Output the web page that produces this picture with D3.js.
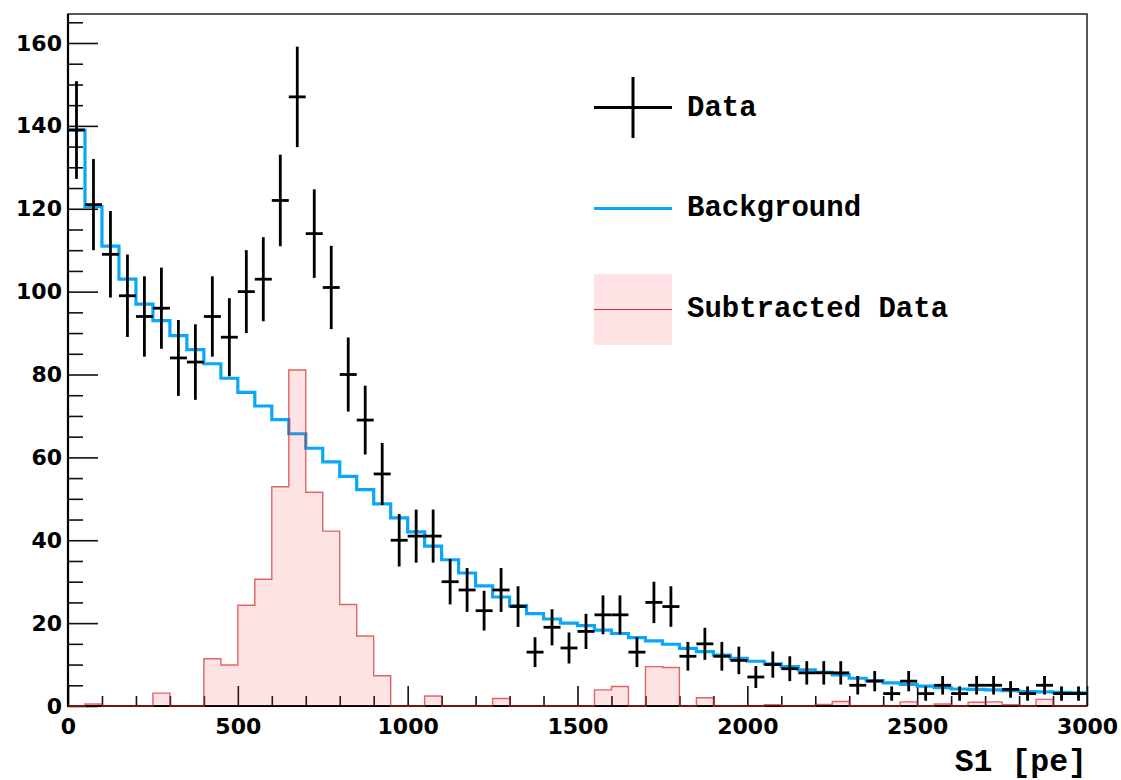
<!DOCTYPE html>
<html>
<head>
<meta charset="utf-8">
<script src="https://cdn.jsdelivr.net/npm/d3@7/dist/d3.min.js"></script>
<style>
  html, body { margin: 0; padding: 0; background: #ffffff; }
  svg { display: block; }
</style>
</head>
<body>
<svg id="chart" width="1121" height="780"></svg>
<script>
// ---- data (bins of 50 pe from 0 to 3000) ----
const binEdges = d3.range(0, 3001, 50);
const dataCounts = [139,121,109,99,94,96,84,83,94,89,
  100,103,122,147,114,101,80,69,56,40,
  41,41,30,28,23,28,24,13,19,14,
  18,22,22,13,25,24,12,15,12,11,
  7,10,9,8,8,8,5,6,3,6,
  3,5,3,5,5,4,3,5,3,3];
const background = [139,120.5,111,103,97,93,89.4,86,82.6,79.1,
  75.7,72.4,69.1,65.7,62.2,58.9,55.4,52.2,48.8,45.4,
  42,38.6,35.3,32.1,29,26.3,24.2,22.3,21,20,
  19.4,18.3,17.5,16.5,15.7,14.9,13.9,13.1,12.3,11.5,
  10.8,10.2,9.5,8.7,8.1,7.5,6.7,6.1,5.6,5.2,
  4.8,4.4,4.1,4.0,3.9,3.7,3.5,3.4,3.3,3.2];
const subtracted = [0,0.5,0,0,0,3.1,0,0,11.4,9.9,
  24.3,30.6,52.9,81.1,51.6,42.2,24.5,16.9,7.3,0,
  0,2.4,0,0,0,1.8,0,0,0,0,
  0,3.9,4.7,0,9.5,9.3,0,2.0,0,0,
  0,0.3,0,0,0.4,1.1,0,0,0,1.0,
  0,0.5,0,0.9,1.0,0.3,0,1.6,0,0];
const yMajorTicks = [0,20,40,60,80,100,120,140,160];
const xMajorTicks = [0,500,1000,1500,2000,2500,3000];
const legendLabels = ["Data", "Background", "Subtracted Data"];
const xTitle = "S1 [pe]";

// ---- layout ----
const svg = d3.select("#chart");
const L = 68, R = 1087, T = 14, B = 706;
const x = d3.scaleLinear().domain([0, 3000]).range([L, R]);
const y = d3.scaleLinear().domain([0, 167]).range([B, T]);

const blue = "#0aa6f8";
const redLine = "rgb(215,45,45)";

// frame
svg.append("rect").attr("x", L).attr("y", T).attr("width", R - L).attr("height", B - T)
  .attr("fill", "none").attr("stroke", "#222").attr("stroke-width", 1.5);

// axes
const tickFont = "'DejaVu Sans', Verdana, sans-serif";
const yMinor = d3.range(0, 167, 5).filter(v => v % 20 !== 0);
const xMinor = d3.range(0, 3001, 100).filter(v => v % 500 !== 0);

const gy = svg.append("g").attr("transform", `translate(${L},0)`)
  .call(d3.axisLeft(y).tickValues(yMajorTicks).tickSize(-30).tickPadding(6).tickFormat(d3.format("d")));
const gyMinor = svg.append("g").attr("transform", `translate(${L},0)`)
  .call(d3.axisLeft(y).tickValues(yMinor).tickSize(-15).tickFormat(""));
const gx = svg.append("g").attr("transform", `translate(0,${B})`)
  .call(d3.axisBottom(x).tickValues(xMajorTicks).tickSize(-20).tickPadding(12).tickFormat(d3.format("d")));
const gxMinor = svg.append("g").attr("transform", `translate(0,${B})`)
  .call(d3.axisBottom(x).tickValues(xMinor).tickSize(-10).tickFormat(""));

[gy, gyMinor, gx, gxMinor].forEach(g => {
  g.select(".domain").remove();
  g.selectAll(".tick line").attr("stroke", "#111").attr("stroke-width", 1.6);
  g.selectAll("text").attr("font-family", tickFont).attr("font-weight", "bold")
    .attr("font-size", 22).attr("fill", "#000");
});

// axis lines
svg.append("line").attr("x1", L).attr("x2", L).attr("y1", T).attr("y2", B + 1)
  .attr("stroke", "#000").attr("stroke-width", 2.2);
svg.append("line").attr("x1", L - 1).attr("x2", R).attr("y1", B).attr("y2", B)
  .attr("stroke", "#000").attr("stroke-width", 2.2);

// background step line
const bgPts = [];
background.forEach((v, i) => {
  bgPts.push([x(binEdges[i]), y(v)]);
  bgPts.push([x(binEdges[i + 1]), y(v)]);
});
svg.append("path").attr("d", d3.line()(bgPts)).attr("fill", "none")
  .attr("stroke", blue).attr("stroke-width", 3.2).attr("stroke-linejoin", "miter");

// data points with Poisson error bars
const gData = svg.append("g").attr("stroke", "#000").attr("stroke-width", 2.8);
dataCounts.forEach((v, i) => {
  const cx = x((binEdges[i] + binEdges[i + 1]) / 2);
  const e = Math.sqrt(v);
  gData.append("line").attr("x1", cx).attr("x2", cx)
    .attr("y1", y(v + e)).attr("y2", Math.min(B, y(Math.max(0, v - e))));
  gData.append("line").attr("x1", x(binEdges[i])).attr("x2", x(binEdges[i + 1]))
    .attr("y1", y(v)).attr("y2", y(v));
});

// subtracted data histogram (semi-transparent fill and outline)
const subPts = [[x(binEdges[0]), y(0)]];
subtracted.forEach((v, i) => {
  subPts.push([x(binEdges[i]), y(v)]);
  subPts.push([x(binEdges[i + 1]), y(v)]);
});
subPts.push([x(binEdges[binEdges.length - 1]), y(0)]);
svg.append("path").attr("d", d3.line()(subPts) + "Z")
  .attr("fill", "rgba(240,60,60,0.14)").attr("stroke", "none");
svg.append("path").attr("d", d3.line()(subPts))
  .attr("fill", "none").attr("stroke", "rgba(215,40,40,0.7)").attr("stroke-width", 1.4);

// legend
const legFont = "'Liberation Mono', 'Courier New', monospace";
const lg = svg.append("g");
lg.append("line").attr("x1", 594).attr("x2", 672).attr("y1", 107.5).attr("y2", 107.5)
  .attr("stroke", "#000").attr("stroke-width", 3);
lg.append("line").attr("x1", 633).attr("x2", 633).attr("y1", 77).attr("y2", 138)
  .attr("stroke", "#000").attr("stroke-width", 3);
lg.append("line").attr("x1", 594).attr("x2", 672).attr("y1", 208.5).attr("y2", 208.5)
  .attr("stroke", blue).attr("stroke-width", 3.2);
lg.append("rect").attr("x", 594).attr("y", 274).attr("width", 78).attr("height", 71)
  .attr("fill", "rgba(240,60,60,0.14)");
lg.append("line").attr("x1", 594).attr("x2", 672).attr("y1", 309.5).attr("y2", 309.5)
  .attr("stroke", redLine).attr("stroke-width", 1.2);
[[116, legendLabels[0]], [216, legendLabels[1]], [317, legendLabels[2]]].forEach(([by, t]) => {
  lg.append("text").attr("x", 687).attr("y", by).text(t)
    .attr("font-family", legFont).attr("font-weight", "bold").attr("font-size", 29)
    .attr("fill", "#000").attr("xml:space", "preserve").style("white-space", "pre");
});

// x axis title
svg.append("text").attr("x", R).attr("y", 771).attr("text-anchor", "end")
  .attr("font-family", legFont).attr("font-weight", "bold").attr("font-size", 31.5)
  .attr("fill", "#000").style("white-space", "pre").text(xTitle);
</script>
</body>
</html>
